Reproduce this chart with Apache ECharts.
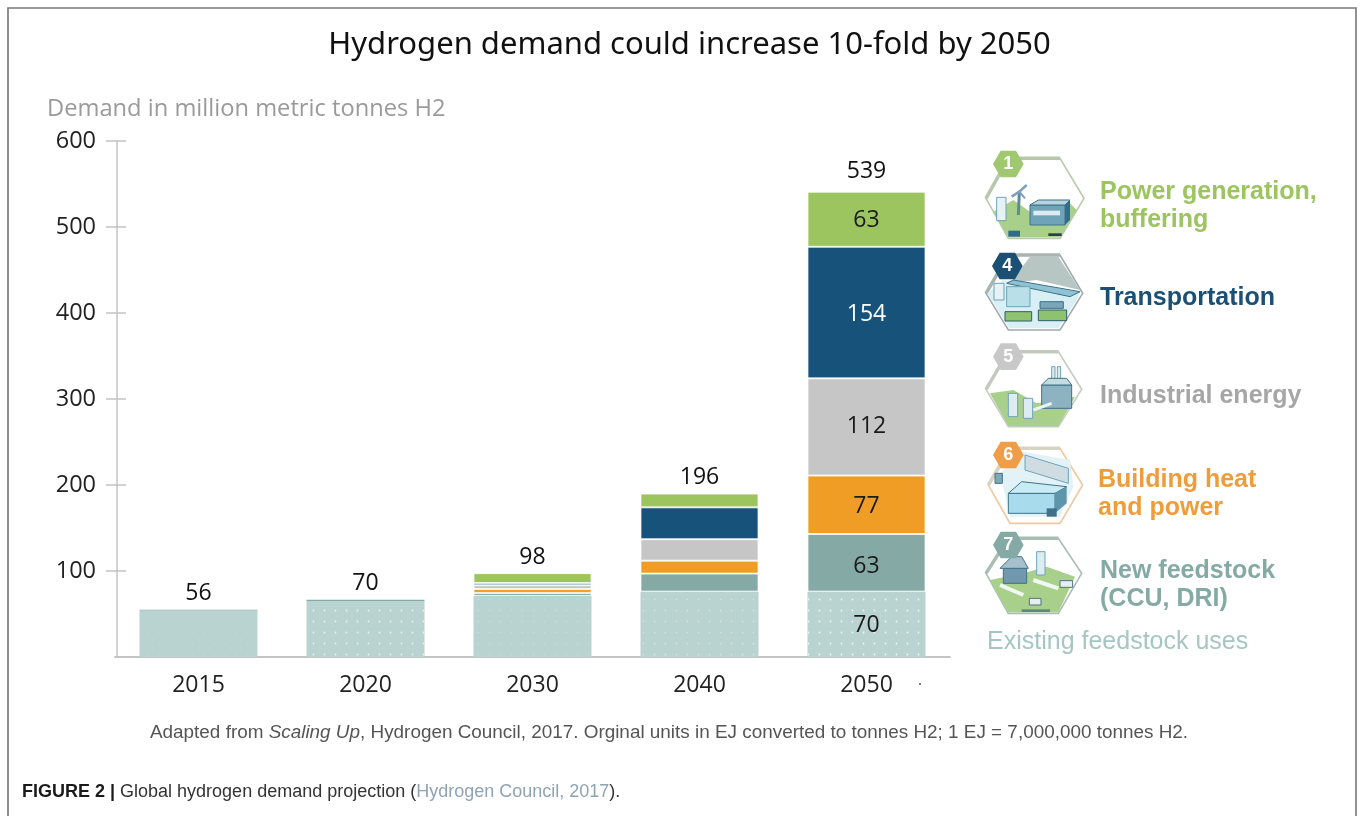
<!DOCTYPE html>
<html><head><meta charset="utf-8">
<script src="https://cdn.jsdelivr.net/npm/echarts@6/dist/echarts.min.js"></script>
<style>html,body{margin:0;background:#fff}#c{width:1360px;height:816px}</style></head>
<body><div id="c"></div>
<script>
const categories = ['2015','2020','2030','2040','2050'];
const existing = [54,65,71,76,76];
const feedstock = [1,1.5,3.5,21,67];
const heat = [0,0,4.5,15,68];
const industrial = [0,0,4.5,25,113];
const transport = [0,0,2.5,37,153];
const power = [0,0,11.5,16,64];
const totalLabels = ['56','70','98','196','539'];
const existingLabels = ['','','','','70'];
const feedstockLabels = ['','','','','63'];
const heatLabels = ['','','','','77'];
const industrialLabels = ['','','','','112'];
const transportLabels = ['','','','','154'];
const powerLabels = ['','','','','63'];
const FONT = '"Liberation Sans", Arial, sans-serif';
const OPEN = '"Open Sans", sans-serif';
const tops = categories.map((_, i) => existing[i]+feedstock[i]+heat[i]+industrial[i]+transport[i]+power[i]);

function seg(name, vals, labels, color, textColor, dy, border) {
  return { name, type:'bar', stack:'d', barWidth:118, yAxisIndex:0,
    data:vals.map(v=>{
      const value = typeof v==='object' ? v.value : v;
      const base = typeof v==='object' ? v : {value};
      return value<2 ? {...base,itemStyle:{...(base.itemStyle||{}),borderWidth:0}} : base;
    }),
    itemStyle:{color, borderColor:'rgba(255,255,255,0.7)', borderWidth:border},
    label:{show:true, position:'inside', offset:[0,dy], fontFamily:OPEN, fontSize:23, color:textColor,
      formatter:p=>labels[p.dataIndex]}, emphasis:{disabled:true}};
}
const dots = op => ({symbol:'circle', symbolSize:0.16, dashArrayX:[11,0], dashArrayY:[11,0], color:'rgba(255,255,255,'+op+')', rotation:0});
const decalOps = [0.12,0.7,0.2,0.35,0.8];
const existingSeries = seg('Existing feedstock uses', existing.map((v,i)=>({value:v,itemStyle:{decal:dots(decalOps[i])}})), existingLabels, '#b9d3d0', '#1a1a1a', 1, 0);

// Legend icons are sketched in crop coordinates of the right-hand panel
const zx = x => 980 + x/3, zy = y => 140 + y/3;
const zp = pts => pts.map(p=>[zx(p[0]),zy(p[1])]);
const poly = (pts,fill,stroke,lw) => ({type:'polygon',silent:true,shape:{points:zp(pts)},style:{fill:fill||'none',stroke:stroke||null,lineWidth:lw||0}});
const pline = (pts,stroke,lw) => ({type:'polyline',silent:true,shape:{points:zp(pts)},style:{fill:'none',stroke,lineWidth:lw}});
const box = (x,y,w,h,fill,stroke) => poly([[x,y],[x+w,y],[x+w,y+h],[x,y+h]],fill,stroke,stroke?1:0);
function frameHex(pts,stroke,band){
  return [poly(pts,'#ffffff',stroke,1.6),
    pline([pts[0],pts[1],pts[2]],band,3.5)];
}
function badge(x,y,fill,num){
  const r=46,h=40;
  return [poly([[x-r,y],[x-r/2,y-h],[x+r/2,y-h],[x+r,y],[x+r/2,y+h],[x-r/2,y+h]],fill),
    {type:'text',silent:true,x:zx(x),y:zy(y),style:{text:num,fill:'#fff',font:'bold 18px '+FONT,align:'center',verticalAlign:'middle'}}];
}
const hex1=[[18,175],[85,55],[240,55],[312,175],[240,295],[85,295]];
const hex4=[[18,460],[85,345],[240,345],[308,460],[240,570],[85,570]];
const hex5=[[18,748],[85,635],[235,635],[305,748],[235,860],[85,860]];
const hex6=[[25,1035],[90,925],[240,925],[308,1035],[240,1150],[90,1150]];
const hex7=[[18,1300],[85,1195],[235,1195],[305,1300],[235,1420],[85,1420]];
const GRN='#a8d08a', LB='#bfe3ec', MB='#6fa3b8', DB='#3f7288';
const iconEls = [
  ...frameHex(hex1,'#b9c9ad','#b7c8ae'),
  poly([[40,215],[100,180],[150,215],[270,190],[290,210],[240,292],[85,292]],GRN),
  box(50,172,28,70,'#e6f2f4',MB), pline([[115,225],[118,155]],'#5f8a9c',3),
  pline([[95,170],[118,155],[140,135]],'#7f9fc0',2.5), pline([[118,155],[135,175]],'#7f9fc0',2),
  box(150,195,105,60,'#6fa3b8',DB), poly([[150,195],[175,180],[270,180],[255,195]],'#b5d4de',DB,1),
  poly([[255,195],[270,180],[270,240],[255,255]],'#2f6d8a'), box(160,212,80,14,'#dcecf0'),
  box(85,272,35,18,'#2f6d8a'), box(205,280,40,8,'#24424a'),
  ...frameHex(hex4,'#9faaa8','#a8b4b0'),
  poly([[90,430],[150,350],[235,350],[300,450],[170,420]],'#b7c6c3'),
  poly([[22,460],[70,420],[300,455],[290,480],[235,565],[88,565]],'#d8eff5'),
  poly([[80,430],[270,470],[300,455],[100,420]],'#8fc3d4',DB,1),
  box(42,430,30,50,'#e6f2f4',MB), box(80,440,70,60,'#b9dfe9',MB), box(180,485,70,20,'#7aa6b8',DB),
  box(75,515,80,28,'#8fc26f','#2f5d6a'), box(175,510,85,32,'#8fc26f','#2f5d6a'),
  ...frameHex(hex5,'#c3ccc0','#c4c9c0'),
  poly([[30,760],[100,750],[170,790],[285,770],[235,858],[85,858]],GRN),
  box(215,680,10,60,'#dbeaee',MB), box(232,680,10,60,'#dbeaee',MB),
  box(185,735,90,70,'#8db2c1',DB), poly([[185,735],[205,715],[260,715],[275,735]],'#c4dbe2',DB,1),
  box(85,760,28,70,'#dcecf0',MB), box(130,775,28,60,'#dcecf0',MB),
  pline([[160,810],[215,790]],'#eaf5ef',3),
  ...frameHex(hex6,'#efc7a0','#d6d2c4'),
  poly([[60,1000],[130,935],[270,960],[280,1040],[240,1130],[90,1130]],'#e3f2f6'),
  poly([[135,945],[265,985],[265,1030],[135,990]],'#cfdde2',MB,1),
  box(85,1060,140,60,'#a8dcec',DB), poly([[85,1060],[125,1025],[260,1040],[225,1060]],'#c8ecf5',DB,1),
  poly([[225,1060],[260,1040],[260,1090],[225,1120]],'#5d95aa'),
  box(45,1000,22,30,'#7fa9b9',DB), box(200,1105,30,25,'#3f7288'),
  ...frameHex(hex7,'#a8bdb2','#a9bdb2'),
  poly([[30,1320],[130,1300],[200,1280],[285,1310],[235,1417],[85,1417]],GRN),
  box(170,1235,25,70,'#dcecf0',MB),
  box(70,1285,70,45,'#7298ad',DB), poly([[60,1285],[95,1250],[125,1250],[145,1285]],'#a6c0cc',DB,1),
  pline([[60,1335],[130,1365]],'#f0f8f2',4), pline([[160,1320],[235,1345]],'#f0f8f2',4),
  box(148,1375,35,20,'#e6eef0','#54717c'), box(240,1322,38,20,'#e6eef0','#54717c'),
  box(125,1408,85,8,'#5f8a7a'),
  ...badge(85,72,'#a0c870','1'),
  ...badge(82,378,'#1b4f73','4'),
  ...badge(85,650,'#c8c8c8','5'),
  ...badge(85,945,'#ef9d46','6'),
  ...badge(85,1215,'#85aaa6','7'),
];
function legendText(x,y,lines,color){
  return lines.map((t,i)=>({type:'text',x,y:y+i*28,style:{text:t,fill:color,font:'bold 25px '+FONT,verticalAlign:'middle'}}));
}
const legendEls = [
  ...legendText(1100,192,['Power generation,','buffering'],'#9cc45f'),
  ...legendText(1100,298,['Transportation'],'#1b4f73'),
  ...legendText(1100,396,['Industrial energy'],'#a6a6a6'),
  ...legendText(1098,480,['Building heat','and power'],'#ef9d3a'),
  ...legendText(1100,571,['New feedstock','(CCU, DRI)'],'#85aaa6'),
  {type:'text',x:987,y:642,style:{text:'Existing feedstock uses',fill:'#a5c6c2',font:'25px '+FONT,verticalAlign:'middle'}},
];
const frame = {type:'polyline',shape:{points:[[8,816],[8,8],[1356,8],[1356,816]]},style:{fill:'none',stroke:'#777',lineWidth:1.6},silent:true};
const speck = {type:'circle',shape:{cx:920,cy:684,r:1},style:{fill:'#555'},silent:true};
const noteEl = {type:'text',x:150,y:733,style:{
  text:'{n|Adapted from }{i|Scaling Up}{n|, Hydrogen Council, 2017. Orginal units in EJ converted to tonnes H2; 1 EJ = 7,000,000 tonnes H2.}',
  verticalAlign:'middle',
  rich:{n:{font:'18.9px '+FONT,fill:'#555'},i:{font:'italic 18.9px '+FONT,fill:'#555'}}}};
const capEl = {type:'text',x:22,y:792,style:{
  text:'{b|FIGURE 2 | }{n|Global hydrogen demand projection (}{l|Hydrogen Council, 2017}{n|).}',
  verticalAlign:'middle',
  rich:{b:{font:'bold 18px '+FONT,fill:'#1a1a1a'},n:{font:'18px '+FONT,fill:'#333'},l:{font:'18px '+FONT,fill:'#8fa3b3'}}}};

const chart = echarts.init(document.getElementById('c'),null,{renderer:'canvas'});
chart.setOption({
  animation:false,
  backgroundColor:'#ffffff',
  title:[
    {text:'Hydrogen demand could increase 10-fold by 2050',left:684.5,top:25,textAlign:'center',
     textStyle:{fontFamily:'"Noto Sans",sans-serif',fontSize:31,fontWeight:'normal',color:'#111'}},
    {text:'Demand in million metric tonnes H2',left:47,top:97,padding:0,
     textStyle:{fontFamily:OPEN,fontSize:23.7,fontWeight:'normal',color:'#9a9a9a'}}
  ],
  grid:{left:115,right:410,top:141,bottom:159},
  xAxis:{type:'category',data:categories,
    axisLine:{lineStyle:{color:'#c4c4c4',width:2}},axisTick:{show:false},
    axisLabel:{fontFamily:OPEN,fontSize:23,color:'#222',margin:17}},
  yAxis:[
    {type:'value',min:0,max:600,interval:100,position:'left',offset:-2,
     axisLine:{show:true,lineStyle:{color:'#c4c4c4',width:1.5}},
     axisTick:{show:true,length:11,customValues:[100,200,300,400,500,600],lineStyle:{color:'#c4c4c4',width:1.5}},
     splitLine:{show:false},
     axisLabel:{fontFamily:OPEN,fontSize:23.5,color:'#222',margin:21,formatter:v=>v===0?'':String(v)}},
    {type:'value',min:0,max:600,interval:100,position:'left',offset:-2,
     axisLine:{show:false},
     axisTick:{show:true,inside:true,length:9,customValues:[100,200,300,400,500,600],lineStyle:{color:'#c4c4c4',width:1.5}},
     splitLine:{show:false},axisLabel:{show:false}}
  ],
  series:[
    existingSeries,
    seg('New feedstock',feedstock,feedstockLabels,'#85aaa6','#1a1a1a',4,1),
    seg('Building heat and power',heat,heatLabels,'#ef9d24','#1a1a1a',2,1),
    seg('Industrial energy',industrial,industrialLabels,'#c6c6c6','#1a1a1a',0,1),
    seg('Transportation',transport,transportLabels,'#17527a','#ffffff',2,1),
    seg('Power generation, buffering',power,powerLabels,'#9cc45f','#1a1a1a',1,1),
    {name:'Total',type:'line',yAxisIndex:0,data:tops.map((v,i)=>i===4?{value:v,label:{distance:8}}:v),symbol:'circle',symbolSize:1,itemStyle:{color:'transparent'},lineStyle:{width:0,color:'transparent'},
     label:{show:true,position:'top',distance:4,fontFamily:OPEN,fontSize:23,color:'#111',
       formatter:p=>totalLabels[p.dataIndex]},silent:true,z:5}
  ],
  graphic:{elements:[frame,speck,noteEl,capEl,...iconEls,...legendEls]}
});
</script></body></html>
